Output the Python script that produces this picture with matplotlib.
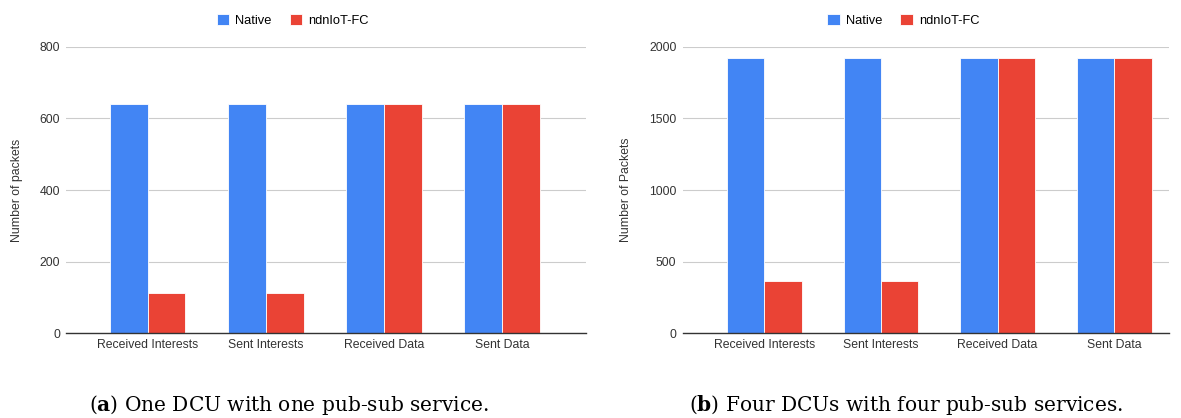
import numpy as np
import matplotlib.pyplot as plt

# data
categories = ["Received Interests", "Sent Interests", "Received Data", "Sent Data"]
series = ["Native", "ndnIoT-FC"]
one_dcu_native = [640, 640, 640, 640]
one_dcu_fc = [112, 112, 640, 640]
four_dcu_native = [1920, 1920, 1920, 1920]
four_dcu_fc = [365, 365, 1920, 1920]

colors = ["#4285F4", "#EA4335"]

plt.rcParams["font.family"] = "Liberation Sans"
plt.rcParams["mathtext.fontset"] = "custom"
plt.rcParams["mathtext.rm"] = "DejaVu Serif"
plt.rcParams["mathtext.bf"] = "DejaVu Serif:bold"

fig = plt.figure(figsize=(11.81, 4.18), dpi=100)


def draw_panel(rect, xlim, native, fc, ylim, yticks, ylabel, legend_x, caption_x, caption):
    ax = fig.add_axes(rect)
    x = np.arange(len(categories))
    w = 0.32
    b1 = ax.bar(x - w / 2, native, width=w, color=colors[0], edgecolor="white",
                linewidth=0.6, zorder=3, label=series[0])
    b2 = ax.bar(x + w / 2, fc, width=w, color=colors[1], edgecolor="white",
                linewidth=0.6, zorder=3, label=series[1])
    ax.set_xlim(*xlim)
    ax.set_ylim(*ylim)
    ax.set_yticks(yticks)
    ax.set_xticks(x)
    ax.set_xticklabels(categories)
    ax.tick_params(length=0, labelsize=8.8, colors="#333333", pad=4.5)
    ax.grid(axis="y", color="#cccccc", linewidth=0.8, zorder=0)
    for s in ["top", "right", "left"]:
        ax.spines[s].set_visible(False)
    ax.spines["bottom"].set_color("#333333")
    ax.spines["bottom"].set_linewidth(1.0)
    ax.spines["bottom"].set_zorder(4)
    ax.set_ylabel(ylabel, fontsize=8.8, color="#333333", labelpad=12)
    fig.legend(handles=[b1, b2], loc="center", bbox_to_anchor=(legend_x, 0.952),
               ncol=2, frameon=False, fontsize=9.3, handlelength=0.95,
               handleheight=0.95, handletextpad=0.5, columnspacing=1.4)
    fig.text(caption_x, 0.03, caption, ha="center", va="center",
             fontsize=14.5, family="DejaVu Serif")
    return ax


draw_panel([0.056, 0.2033, 0.440, 0.6843], (-0.69, 3.71), one_dcu_native, one_dcu_fc,
           (0, 800), [0, 200, 400, 600, 800], "Number of packets", 0.248, 0.245,
           r"($\mathbf{a}$) One DCU with one pub-sub service.")
draw_panel([0.578, 0.2033, 0.412, 0.6843], (-0.70, 3.47), four_dcu_native, four_dcu_fc,
           (0, 2000), [0, 500, 1000, 1500, 2000], "Number of Packets", 0.765, 0.767,
           r"($\mathbf{b}$) Four DCUs with four pub-sub services.")

fig.savefig("out.png", dpi=100)
